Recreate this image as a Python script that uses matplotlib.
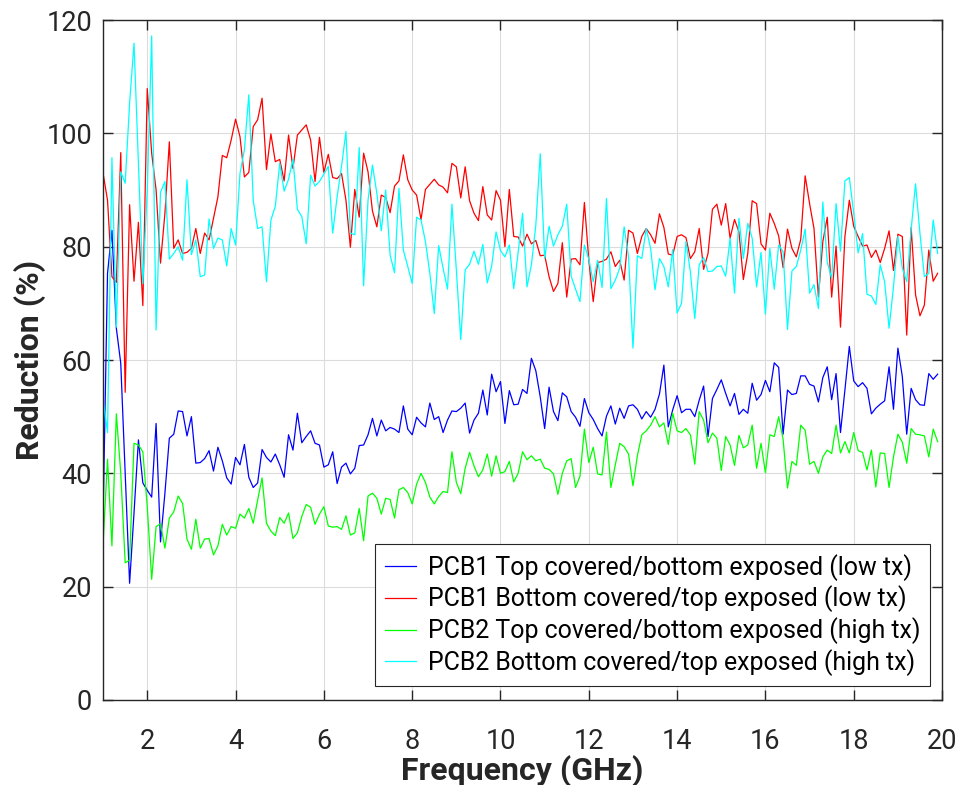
import numpy as np
import matplotlib
matplotlib.use("Agg")
import matplotlib.pyplot as plt

plt.rcParams['font.family'] = ['Roboto', 'DejaVu Sans']

# Frequency axis: 1.0 ... 19.9 GHz in 0.1 GHz steps
freq = np.arange(10, 200) / 10.0

pcb1_top_low = [
    32.4, 75.3, 82.9, 65.6, 59.4, 40.0, 20.6, 33.0, 45.9, 38.3,
    37.0, 35.8, 48.8, 27.9, 36.5, 46.2, 46.9, 51.0, 50.9, 46.6,
    50.0, 41.8, 41.9, 42.6, 44.0, 40.4, 44.6, 42.2, 39.2, 38.1,
    42.8, 41.5, 45.1, 39.3, 37.5, 38.3, 44.2, 42.8, 42.0, 43.4,
    41.5, 39.3, 46.8, 44.1, 50.6, 45.4, 46.5, 47.5, 45.3, 45.0,
    41.1, 41.5, 43.8, 38.2, 41.1, 41.8, 39.9, 40.9, 44.9, 45.0,
    46.8, 49.7, 46.6, 49.4, 47.5, 48.1, 47.8, 47.2, 51.9, 47.8,
    46.8, 49.9, 48.9, 48.2, 52.4, 49.5, 50.0, 47.2, 49.4, 51.0,
    50.9, 51.5, 52.4, 47.1, 49.4, 50.6, 54.7, 50.3, 57.5, 54.4,
    56.2, 48.8, 54.6, 52.1, 52.2, 54.8, 54.1, 60.3, 58.1, 53.5,
    47.9, 55.2, 50.9, 49.3, 54.2, 53.5, 50.9, 49.9, 48.3, 53.2,
    50.7, 49.5, 47.9, 46.6, 50.1, 51.9, 48.7, 51.5, 49.7, 51.9,
    52.1, 51.3, 49.6, 50.9, 49.9, 51.3, 54.0, 59.1, 48.2, 51.2,
    53.7, 50.7, 51.3, 51.3, 50.0, 52.9, 55.4, 46.5, 53.2, 54.8,
    56.5, 54.1, 51.9, 54.1, 50.4, 51.3, 50.6, 55.9, 52.9, 53.9,
    56.4, 54.4, 59.5, 58.7, 46.9, 54.7, 53.9, 54.1, 57.2, 57.2,
    55.7, 55.4, 52.6, 56.9, 58.8, 53.0, 57.6, 47.2, 54.7, 62.4,
    56.3, 55.3, 56.0, 55.0, 50.5, 51.5, 52.2, 52.8, 58.8, 51.3,
    62.1, 57.1, 46.9, 55.0, 53.0, 52.1, 52.0, 57.6, 56.6, 57.5,
]

pcb1_bottom_low = [
    92.9, 88.2, 74.7, 73.7, 96.6, 54.3, 87.4, 73.9, 84.3, 69.6,
    107.9, 96.5, 90.0, 77.1, 85.9, 98.5, 79.7, 81.2, 78.8, 79.0,
    79.7, 83.2, 78.8, 82.4, 81.2, 85.0, 88.8, 96.1, 95.7, 98.8,
    102.5, 99.4, 92.3, 93.1, 101.2, 102.4, 106.2, 93.6, 99.9, 95.0,
    95.4, 91.6, 99.7, 93.8, 99.7, 100.6, 101.5, 98.8, 91.5, 99.3,
    93.1, 96.3, 92.2, 92.0, 92.9, 88.2, 79.9, 90.1, 85.2, 96.5,
    93.2, 86.3, 83.5, 89.1, 88.7, 86.0, 90.7, 91.6, 96.2, 91.8,
    90.0, 89.1, 84.8, 90.1, 91.0, 91.9, 90.9, 90.5, 89.5, 94.7,
    94.1, 88.6, 94.1, 88.1, 85.9, 84.6, 90.6, 85.6, 84.7, 89.9,
    88.2, 80.0, 90.1, 81.8, 81.7, 80.1, 82.2, 80.5, 81.1, 78.4,
    78.5, 74.7, 72.1, 73.5, 80.7, 71.1, 77.8, 77.9, 76.8, 87.8,
    77.6, 70.3, 77.2, 77.4, 77.8, 79.1, 76.5, 77.6, 74.1, 82.9,
    82.4, 78.8, 81.8, 83.2, 82.1, 80.6, 85.8, 83.4, 78.7, 78.5,
    81.8, 82.1, 81.6, 77.9, 79.1, 83.2, 76.0, 78.8, 86.6, 87.5,
    83.8, 87.6, 81.5, 84.8, 82.6, 74.2, 78.8, 88.1, 87.6, 80.5,
    79.4, 85.9, 84.1, 81.9, 76.3, 83.1, 79.7, 78.2, 81.3, 92.5,
    87.6, 83.2, 71.1, 80.9, 85.2, 71.1, 80.1, 65.8, 81.8, 88.2,
    83.6, 81.8, 80.1, 80.3, 78.1, 79.4, 77.2, 79.7, 82.8, 75.8,
    82.2, 81.8, 64.4, 83.4, 71.5, 67.8, 69.7, 79.4, 73.9, 75.3,
]

pcb2_top_high = [
    27.6, 42.5, 27.2, 50.5, 40.0, 24.2, 24.7, 45.3, 45.0, 43.8,
    34.1, 21.3, 30.6, 31.1, 26.8, 32.1, 33.2, 36.0, 34.7, 28.4,
    26.6, 31.9, 26.8, 28.4, 28.5, 25.6, 27.2, 31.0, 29.1, 30.6,
    30.3, 32.8, 32.1, 33.8, 31.2, 35.3, 39.2, 31.2, 29.8, 29.0,
    32.2, 31.2, 33.0, 28.5, 29.5, 32.4, 34.5, 34.0, 31.0, 32.8,
    34.1, 30.7, 30.5, 30.6, 30.1, 32.5, 29.1, 29.5, 33.8, 28.1,
    36.0, 36.5, 35.6, 32.8, 35.6, 35.4, 32.1, 37.1, 37.5, 36.6,
    34.6, 38.1, 40.0, 38.4, 35.8, 34.6, 35.9, 36.8, 36.6, 43.8,
    38.4, 36.4, 40.9, 43.7, 41.3, 39.4, 40.6, 43.4, 39.5, 43.1,
    40.0, 40.3, 42.1, 38.5, 40.0, 43.8, 42.4, 43.1, 42.2, 42.5,
    40.9, 40.7, 39.9, 36.3, 40.0, 42.2, 42.6, 37.5, 39.5, 47.8,
    41.9, 44.6, 39.9, 39.7, 47.3, 37.5, 41.5, 45.3, 44.7, 43.4,
    37.8, 43.1, 46.8, 47.5, 48.5, 50.0, 48.2, 48.9, 45.1, 50.6,
    47.5, 47.2, 47.9, 46.8, 41.6, 50.9, 49.4, 45.4, 47.1, 46.2,
    40.5, 46.5, 45.0, 41.4, 46.7, 44.5, 45.0, 48.5, 40.9, 45.3,
    40.1, 46.8, 46.5, 50.0, 46.0, 37.4, 42.1, 41.4, 48.5, 47.6,
    41.6, 42.1, 40.0, 42.9, 44.1, 43.5, 48.5, 43.6, 45.6, 43.6,
    47.2, 44.0, 43.7, 40.6, 44.1, 37.6, 43.6, 43.5, 37.5, 42.9,
    46.9, 45.5, 41.8, 47.9, 46.9, 46.8, 46.6, 42.9, 47.8, 45.6,
]

pcb2_bottom_high = [
    53.1, 47.2, 95.7, 65.8, 93.2, 91.2, 105.3, 115.9, 94.7, 73.5,
    90.0, 117.2, 65.3, 89.6, 91.5, 77.8, 78.8, 80.0, 77.6, 91.8,
    78.6, 81.2, 74.7, 75.0, 84.9, 79.7, 81.5, 81.2, 76.6, 83.2,
    80.3, 92.9, 97.1, 106.8, 88.2, 83.2, 83.5, 73.8, 84.7, 87.1,
    94.7, 89.8, 91.9, 95.4, 86.6, 85.3, 80.5, 92.6, 90.7, 91.5,
    92.8, 94.2, 82.4, 88.8, 94.2, 100.3, 82.4, 82.1, 97.5, 73.1,
    88.2, 94.4, 89.4, 82.8, 90.0, 78.5, 75.4, 90.3, 79.4, 76.5,
    73.5, 85.2, 84.7, 80.9, 75.3, 68.2, 80.2, 76.2, 72.5, 87.5,
    75.9, 63.6, 75.9, 76.9, 79.2, 76.9, 80.4, 73.6, 76.6, 82.6,
    79.3, 78.2, 80.3, 72.6, 79.0, 85.9, 72.9, 76.8, 83.8, 96.4,
    77.9, 83.6, 80.1, 82.1, 83.6, 87.5, 74.8, 72.5, 70.3, 80.3,
    77.8, 73.8, 77.6, 72.8, 88.5, 72.6, 74.1, 76.2, 83.5, 78.2,
    62.1, 78.4, 77.9, 83.2, 79.7, 72.4, 77.9, 76.5, 72.9, 79.5,
    68.3, 70.0, 80.9, 75.6, 67.3, 76.8, 78.1, 75.6, 75.7, 76.5,
    76.6, 74.8, 81.5, 71.8, 85.0, 77.9, 84.1, 81.5, 72.9, 79.0,
    68.1, 79.7, 72.5, 80.3, 79.1, 65.4, 75.7, 76.5, 79.4, 83.1,
    71.8, 73.3, 69.1, 87.9, 77.3, 74.4, 87.6, 79.2, 91.6, 92.2,
    85.9, 78.9, 82.3, 71.6, 71.3, 69.8, 76.8, 73.8, 65.6, 72.9,
    81.8, 76.2, 73.8, 83.0, 91.1, 82.3, 74.7, 75.3, 84.7, 78.8,
]

series = [
    (pcb1_top_low, '#0000ff', 'PCB1 Top covered/bottom exposed (low tx)'),
    (pcb1_bottom_low, '#ff0000', 'PCB1 Bottom covered/top exposed (low tx)'),
    (pcb2_top_high, '#00ff00', 'PCB2 Top covered/bottom exposed (high tx)'),
    (pcb2_bottom_high, '#00ffff', 'PCB2 Bottom covered/top exposed (high tx)'),
]

fig = plt.figure(figsize=(9.6, 7.85), dpi=100)
ax = fig.add_axes([0.1074, 0.1083, 0.8739, 0.8662])

for values, color, label in series:
    ax.plot(freq, values, color=color, lw=0.9, label=label)

ax.set_xlim(1, 20)
ax.set_ylim(0, 120)
ax.set_xticks(np.arange(2, 21, 2))
ax.set_yticks(np.arange(0, 121, 20))
ax.grid(True, color='#dcdcdc', lw=0.8)
ax.set_axisbelow(True)

ax.tick_params(direction='in', length=7, width=1, top=True, right=True,
               labelsize=19.5, colors='#262626')
ax.tick_params(axis='x', pad=20)
ax.tick_params(axis='y', pad=8)
for sp in ax.spines.values():
    sp.set_color('#262626')
    sp.set_linewidth(1.0)

ax.set_xlabel('Frequency (GHz)', fontsize=23, fontweight='bold', color='#262626', labelpad=0)
ax.set_ylabel('Reduction (%)', fontsize=23, fontweight='bold', color='#262626', labelpad=0)

leg = ax.legend(loc='lower right', bbox_to_anchor=(0.9857, 0.0206), fontsize=17.9,
                frameon=True, fancybox=False, edgecolor='#262626', framealpha=1,
                handlelength=1.25, handletextpad=0.45, borderpad=0.4, labelspacing=0.2,
                borderaxespad=0)
leg.get_frame().set_linewidth(0.8)
for t in leg.get_texts():
    t.set_color('#000000')

fig.savefig('out.png', dpi=100)
